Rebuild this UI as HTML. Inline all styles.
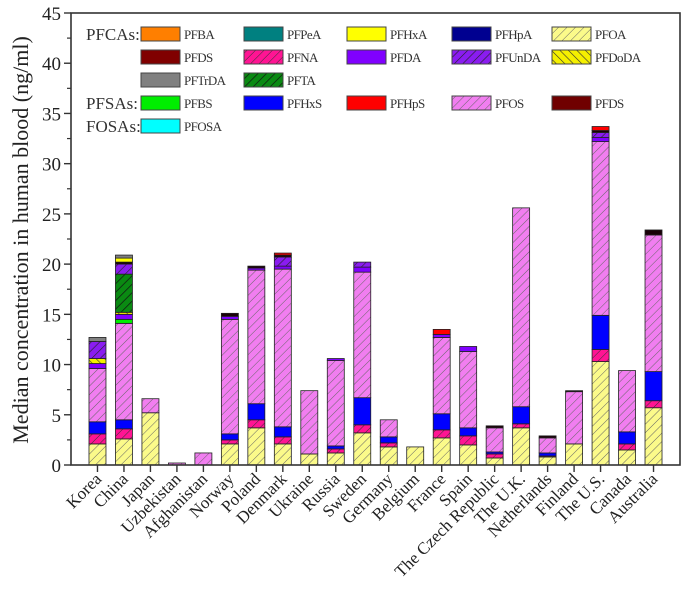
<!DOCTYPE html>
<html><head><meta charset="utf-8">
<style>
html,body{margin:0;padding:0;background:#fff;}
svg{display:block;font-family:"Liberation Serif",serif;}
</style></head>
<body>
<svg id="chart" width="685" height="595" viewBox="0 0 685 595" xmlns="http://www.w3.org/2000/svg">
<defs>
<pattern id="hOA" patternUnits="userSpaceOnUse" width="6" height="6" patternTransform="rotate(45)"><rect width="6" height="6" fill="#fbfa8a"/><line x1="0" y1="0" x2="0" y2="6" stroke="#666" stroke-width="1"/></pattern>
<pattern id="hNA" patternUnits="userSpaceOnUse" width="6" height="6" patternTransform="rotate(45)"><rect width="6" height="6" fill="#ff1493"/><line x1="0" y1="0" x2="0" y2="6" stroke="#333" stroke-width="1"/></pattern>
<pattern id="hOS" patternUnits="userSpaceOnUse" width="6" height="6" patternTransform="rotate(45)"><rect width="6" height="6" fill="#f17ef0"/><line x1="0" y1="0" x2="0" y2="6" stroke="#666" stroke-width="1"/></pattern>
<pattern id="hUn" patternUnits="userSpaceOnUse" width="6" height="6" patternTransform="rotate(45)"><rect width="6" height="6" fill="#8a1cf0"/><line x1="0" y1="0" x2="0" y2="6" stroke="#222" stroke-width="1.2"/></pattern>
<pattern id="hTA" patternUnits="userSpaceOnUse" width="6" height="6" patternTransform="rotate(45)"><rect width="6" height="6" fill="#0a8a12"/><line x1="0" y1="0" x2="0" y2="6" stroke="#111" stroke-width="1.4"/></pattern>
<pattern id="hDo" patternUnits="userSpaceOnUse" width="6" height="6" patternTransform="rotate(-45)"><rect width="6" height="6" fill="#f5f000"/><line x1="0" y1="0" x2="0" y2="6" stroke="#333" stroke-width="1.2"/></pattern>
</defs>
<g id="plot"></g>
</svg>
<script>
const countries = ["Korea","China","Japan","Uzbekistan","Afghanistan","Norway","Poland","Denmark","Ukraine","Russia","Sweden","Germany","Belgium","France","Spain","The Czech Republic","The U.K.","Netherlands","Finland","The U.S.","Canada","Australia"];
const PFOA   = [2.1,2.6,5.2,0,0,2.1,3.7,2.1,1.1,1.2,3.2,1.8,1.8,2.7,2.0,0.7,3.7,0.8,2.1,10.3,1.5,5.7];
const PFNA   = [1.0,1.0,0,0,0,0.4,0.8,0.7,0,0.4,0.8,0.4,0,0.8,0.9,0.4,0.4,0.1,0,1.2,0.6,0.7];
const PFHxS  = [1.2,0.9,0,0,0,0.6,1.6,1.0,0,0.3,2.7,0.6,0,1.6,0.8,0.2,1.7,0.3,0,3.4,1.2,2.9];
const PFOS   = [5.3,9.6,1.4,0.2,1.2,11.4,13.3,15.7,6.3,8.5,12.5,1.7,0,7.6,7.6,2.4,19.8,1.5,5.2,17.3,6.1,13.6];
const PFBS   = [0,0.4,0,0,0,0,0,0,0,0,0,0,0,0,0,0,0,0,0,0,0,0];
const PFDA   = [0.5,0.5,0,0,0,0.3,0.2,0.3,0,0.2,0.5,0,0,0.3,0.5,0,0,0,0,0.4,0,0];
const PFDoDA = [0.5,0.2,0,0,0,0,0,0,0,0,0,0,0,0,0,0,0,0,0,0,0,0];
const PFTA   = [0,3.8,0,0,0,0,0,0,0,0,0,0,0,0,0,0,0,0,0,0,0,0];
const PFUnDA = [1.7,1.0,0,0,0,0,0,0.9,0,0,0.5,0,0,0,0,0,0,0,0,0.5,0,0];
const PFDS   = [0,0.2,0,0,0,0.3,0.2,0.2,0,0,0,0,0,0,0,0.2,0,0.2,0.1,0.2,0,0.5];
const PFHxA  = [0,0.4,0,0,0,0,0,0,0,0,0,0,0,0,0,0,0,0,0,0,0,0];
const PFHpS  = [0,0,0,0,0,0,0,0.2,0,0,0,0,0,0.5,0,0,0,0,0,0.4,0,0];
const PFTrDA = [0.4,0.3,0,0,0,0,0,0,0,0,0,0,0,0,0,0,0,0,0,0,0,0];
const yTicks = [0,5,10,15,20,25,30,35,40,45];

const series = [
 ["PFOA",PFOA,"url(#hOA)"],["PFNA",PFNA,"url(#hNA)"],["PFHxS",PFHxS,"#0000ff"],["PFOS",PFOS,"url(#hOS)"],
 ["PFBS",PFBS,"#00ee00"],["PFDA",PFDA,"#8000ff"],["PFDoDA",PFDoDA,"url(#hDo)"],["PFTA",PFTA,"url(#hTA)"],
 ["PFUnDA",PFUnDA,"url(#hUn)"],["PFDS",PFDS,"#1a0008"],["PFHxA",PFHxA,"#ffff00"],["PFHpS",PFHpS,"#ff0000"],["PFTrDA",PFTrDA,"#808080"]
];
const L=71,R=680,T=13,B=465,yMax=45;
const y=v=>B-(v/yMax)*(B-T);
const band=(R-L)/(countries.length+1);
const x=i=>L+band*(i+1);
const NS="http://www.w3.org/2000/svg";
const g=document.getElementById('plot');
function mk(tag,at,parent){const e=document.createElementNS(NS,tag);for(const k in at)e.setAttribute(k,at[k]);(parent||g).appendChild(e);return e;}

const bw=17;
countries.forEach((c,i)=>{
  let acc=0;
  const grp=mk('g',{});
  
  
  series.forEach(s=>{
    const v=s[1][i]; if(!v) return;
    const r=mk('rect',{x:x(i)-bw/2,y:y(acc+v),width:bw,height:y(acc)-y(acc+v),fill:s[2],stroke:'#222','stroke-width':0.8},grp);
    
    
    acc+=v;
  });
});

const fr=mk('rect',{x:L,y:T,width:R-L,height:B-T,fill:'none',stroke:'#333','stroke-width':1.6});


yTicks.forEach(t=>{
  mk('line',{x1:L-7,x2:L,y1:y(t),y2:y(t),stroke:'#333','stroke-width':1.4});
  if(t<45) mk('line',{x1:L-4,x2:L,y1:y(t+2.5),y2:y(t+2.5),stroke:'#333','stroke-width':1.2});
  const tx=mk('text',{x:L-10,y:y(t)+7,'text-anchor':'end','font-size':19,fill:'#222'});
  tx.textContent=t;
  
  
});
countries.forEach((c,i)=>{
  mk('line',{x1:x(i),x2:x(i),y1:B,y2:B+7,stroke:'#333','stroke-width':1.4});
  const tx=mk('text',{x:x(i)+5,y:B+15,'text-anchor':'end','font-size':17,fill:'#222',transform:`rotate(-45 ${x(i)+5} ${B+15})`});
  tx.textContent=c;
  
  
});
const yt=mk('text',{x:0,y:0,'text-anchor':'middle','font-size':22,fill:'#222',transform:'translate(28 240) rotate(-90)'});
yt.textContent='Median concentration in human blood (ng/ml)';



const legGroups=[["PFCAs:",34],["PFSAs:",103],["FOSAs:",126]];
legGroups.forEach(lg=>{
  const t=mk('text',{x:86,y:lg[1]+6,'font-size':17,fill:'#333'});
  t.textContent=lg[0];
  
  
});
const colX=[141,244,347,452,552];
const legend=[
 [0,0,"PFBA","#ff7f00"],[0,1,"PFPeA","#008080"],[0,2,"PFHxA","#ffff00"],[0,3,"PFHpA","#000090"],[0,4,"PFOA","url(#hOA)"],
 [1,0,"PFDS","#800000"],[1,1,"PFNA","url(#hNA)"],[1,2,"PFDA","#8000ff"],[1,3,"PFUnDA","url(#hUn)"],[1,4,"PFDoDA","url(#hDo)"],
 [2,0,"PFTrDA","#808080"],[2,1,"PFTA","url(#hTA)"],
 [3,0,"PFBS","#00ee00"],[3,1,"PFHxS","#0000ff"],[3,2,"PFHpS","#ff0000"],[3,3,"PFOS","url(#hOS)"],[3,4,"PFDS","#700000"],
 [4,0,"PFOSA","#00ffff"]
];
const rowY=[34,57,80,103,126];
legend.forEach(e=>{
  const lg=mk('g',{});
  
  
  const cx=colX[e[1]], cy=rowY[e[0]];
  mk('rect',{x:cx,y:cy-7,width:39,height:14,fill:e[3],stroke:'#444','stroke-width':1},lg);
  const t=mk('text',{x:cx+43,y:cy+5,'font-size':13,fill:'#333','letter-spacing':'-0.6'},lg);
  t.textContent=e[2];
});
</script>
</body></html>
